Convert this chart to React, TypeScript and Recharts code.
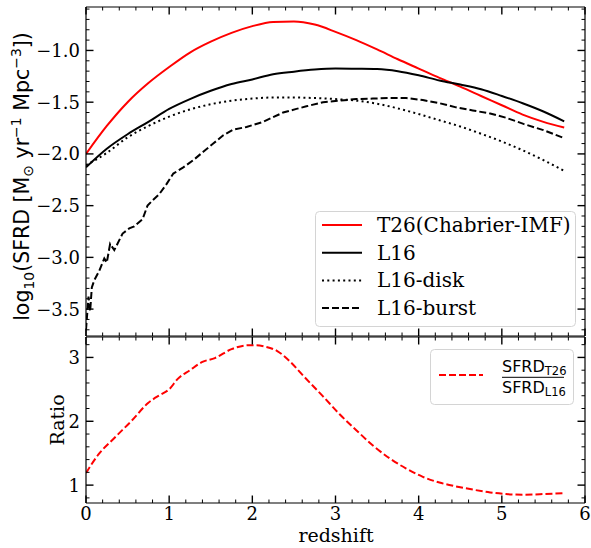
import React from "react";
import { Legend, Line, LineChart, XAxis, YAxis } from "recharts";

// T26 (Chabrier IMF) and L16 total / disk on a common redshift grid
const redshiftGrid = [
  0, 0.25, 0.5, 0.75, 1.0, 1.25, 1.5, 1.75, 2.0, 2.25, 2.5, 2.75, 3.0, 3.25, 3.5, 3.75, 4.0, 4.25,
  4.5, 4.75, 5.0, 5.25, 5.5, 5.75
];
const sfrdT26 = [
  -2.0, -1.73, -1.5, -1.315, -1.16, -1.02, -0.915, -0.83, -0.765, -0.725, -0.72, -0.75, -0.82,
  -0.9, -0.99, -1.085, -1.175, -1.265, -1.35, -1.44, -1.53, -1.62, -1.69, -1.745
];
const sfrdL16 = [
  -2.13, -1.95, -1.81, -1.69, -1.565, -1.47, -1.39, -1.325, -1.28, -1.23, -1.205, -1.185, -1.175,
  -1.177, -1.18, -1.2, -1.24, -1.29, -1.33, -1.375, -1.44, -1.51, -1.59, -1.685
];
const sfrdL16Disk = [
  -2.11, -1.99, -1.84, -1.73, -1.64, -1.57, -1.52, -1.485, -1.465, -1.455, -1.455, -1.46, -1.47,
  -1.485, -1.515, -1.56, -1.615, -1.675, -1.735, -1.805, -1.88, -1.965, -2.06, -2.165
];

// burst component is noisy at low z
const redshiftBurst = [
  0, 0.03, 0.05, 0.07, 0.1, 0.16, 0.22, 0.25, 0.29, 0.34, 0.44, 0.52, 0.58, 0.68, 0.74, 0.8, 0.88,
  0.97, 1.05, 1.17, 1.29, 1.41, 1.53, 1.65, 1.77, 1.93, 2.13, 2.37, 2.53, 2.65, 2.85, 3.05, 3.25,
  3.45, 3.65, 3.85, 4.05, 4.25, 4.45, 4.65, 4.86, 5.05, 5.26, 5.5, 5.74
];
const sfrdL16Burst = [
  -3.7, -3.38, -3.52, -3.29, -3.22, -3.13, -3.01, -3.05, -2.87, -2.93, -2.77, -2.72, -2.7, -2.63,
  -2.5, -2.45, -2.39, -2.29, -2.19, -2.13, -2.06, -1.98, -1.9, -1.82, -1.765, -1.74, -1.69, -1.6,
  -1.565, -1.54, -1.5, -1.485, -1.47, -1.465, -1.46, -1.46, -1.48, -1.51, -1.55, -1.58, -1.61,
  -1.65, -1.71, -1.77, -1.845
];

// SFRD_T26 / SFRD_L16
const redshiftRatio = [
  0, 0.15, 0.35, 0.55, 0.75, 0.9, 1.0, 1.1, 1.25, 1.4, 1.55, 1.75, 1.95, 2.05, 2.15, 2.3, 2.45,
  2.6, 2.85, 3.05, 3.25, 3.45, 3.65, 3.85, 4.05, 4.25, 4.45, 4.65, 4.86, 5.05, 5.26, 5.5, 5.74
];
const ratioT26L16 = [
  1.19, 1.48, 1.75, 2.01, 2.29, 2.42, 2.5, 2.66, 2.8, 2.93, 2.99, 3.13, 3.19, 3.19, 3.17, 3.1,
  2.94, 2.73, 2.39, 2.11, 1.86, 1.62, 1.42, 1.26, 1.13, 1.04, 0.98, 0.93, 0.885, 0.86, 0.85, 0.86,
  0.875
];

const xTicks = Array.from({ length: 31 }, (_, i) => Math.round(i * 2) / 10);
const topYTicks = Array.from({ length: 32 }, (_, i) => Math.round(-37 + i) / 10);
const ratioTicks = Array.from({ length: 13 }, (_, i) => Math.round(8 + i * 2) / 10);

const rows = (zs: number[], vs: number[]) => zs.map((z, i) => ({ z, v: vs[i] }));

const serif = "'DejaVu Serif', serif";
const sans = "'DejaVu Sans', sans-serif";
const fmt = (v: number, digits: number) => (v < 0 ? "\u2212" : "") + Math.abs(v).toFixed(digits);
const isMult = (v: number, step: number) => Math.abs(v / step - Math.round(v / step)) < 1e-6;

const MAJOR = 7.5;
const MINOR = 3.5;

// ticks point into the plot; labels only where a formatter is given
function makeTick(side: "bottom" | "top" | "left" | "right", step: number, label?: (v: number) => string) {
  return (props: any) => {
    const x = Number(props.x);
    const y = Number(props.y);
    const value = Number(props.payload.value);
    const major = isMult(value, step);
    const len = major ? MAJOR : MINOR;
    const sw = major ? 1.4 : 1;
    let x2 = x;
    let y2 = y;
    if (side === "bottom") y2 = y - len;
    else if (side === "top") y2 = y + len;
    else if (side === "left") x2 = x + len;
    else x2 = x - len;
    return (
      <g>
        <line x1={x} y1={y} x2={x2} y2={y2} stroke="#000" strokeWidth={sw} />
        {major && label && side === "bottom" && (
          <text x={x} y={y + 17} textAnchor="middle" fontFamily={serif} fontSize={18} fill="#000">
            {label(value)}
          </text>
        )}
        {major && label && side === "left" && (
          <text x={x - 6} y={y + 6.5} textAnchor="end" fontFamily={serif} fontSize={18} fill="#000">
            {label(value)}
          </text>
        )}
      </g>
    );
  };
}

const seriesTop = [
  { name: "T26(Chabrier-IMF)", color: "#ff0000", dash: undefined },
  { name: "L16", color: "#000000", dash: undefined },
  { name: "L16-disk", color: "#000000", dash: "2 3.3" },
  { name: "L16-burst", color: "#000000", dash: "7 3" }
];

function TopLegend() {
  return (
    <svg width={261} height={116} style={{ display: "block" }}>
      <rect x={0.5} y={0.5} width={260} height={115} rx={4} fill="#fff" fillOpacity={0.8} stroke="#d4d4d4" />
      {seriesTop.map((s, i) => {
        const cy = 14 + i * 27.7;
        return (
          <g key={s.name}>
            <line x1={7} x2={47} y1={cy} y2={cy} stroke={s.color} strokeWidth={2} strokeDasharray={s.dash} />
            <text x={62} y={cy + 7} fontFamily={serif} fontSize={20} fill="#000">
              {s.name}
            </text>
          </g>
        );
      })}
    </svg>
  );
}

function RatioLegend() {
  return (
    <svg width={144} height={56} style={{ display: "block" }}>
      <rect x={0.5} y={0.5} width={143} height={55} rx={4} fill="#fff" fillOpacity={0.8} stroke="#d4d4d4" />
      <line x1={9} x2={53} y1={26} y2={26} stroke="#ff0000" strokeWidth={2} strokeDasharray="7 3" />
      <text x={72} y={22.7} fontFamily={sans} fontSize={16} fill="#000">
        SFRD<tspan fontSize={11.5} dy={3}>T26</tspan>
      </text>
      <line x1={72} x2={134} y1={28.3} y2={28.3} stroke="#000" strokeWidth={1} />
      <text x={72} y={44.3} fontFamily={sans} fontSize={16} fill="#000">
        SFRD<tspan fontSize={11.5} dy={3}>L16</tspan>
      </text>
    </svg>
  );
}

const axisLine = { stroke: "#000", strokeWidth: 1.2 };

export default function App() {
  const width = 591;
  return (
    <div style={{ position: "absolute", left: 0, top: 0, width, height: 548, background: "#fff", overflow: "hidden" }}>
      <div style={{ position: "absolute", left: 0, top: 0 }}>
        <LineChart width={width} height={344} margin={{ top: 6, right: 5, bottom: 7, left: 0 }}>
          <XAxis
            dataKey="z"
            type="number"
            domain={[0, 6]}
            allowDataOverflow
            ticks={xTicks}
            interval={0}
            height={1}
            tickSize={0}
            tickMargin={0}
            tickLine={false}
            axisLine={axisLine}
            tick={makeTick("bottom", 1)}
          />
          <XAxis
            xAxisId="top"
            orientation="top"
            dataKey="z"
            type="number"
            domain={[0, 6]}
            allowDataOverflow
            ticks={xTicks}
            interval={0}
            height={1}
            tickSize={0}
            tickMargin={0}
            tickLine={false}
            axisLine={axisLine}
            tick={makeTick("top", 1)}
          />
          <YAxis
            type="number"
            domain={[-3.76, -0.58]}
            allowDataOverflow
            ticks={topYTicks}
            interval={0}
            width={86}
            tickSize={0}
            tickMargin={0}
            tickLine={false}
            axisLine={axisLine}
            tick={makeTick("left", 0.5, (v) => fmt(v, 1))}
          />
          <YAxis
            yAxisId="right"
            orientation="right"
            type="number"
            domain={[-3.76, -0.58]}
            allowDataOverflow
            ticks={topYTicks}
            interval={0}
            width={1}
            tickSize={0}
            tickMargin={0}
            tickLine={false}
            axisLine={axisLine}
            tick={makeTick("right", 0.5)}
          />
          <Line data={rows(redshiftGrid, sfrdT26)} dataKey="v" name="T26(Chabrier-IMF)" type="monotone" stroke="#ff0000" strokeWidth={2} dot={false} isAnimationActive={false} />
          <Line data={rows(redshiftGrid, sfrdL16)} dataKey="v" name="L16" type="monotone" stroke="#000" strokeWidth={2} dot={false} isAnimationActive={false} />
          <Line data={rows(redshiftGrid, sfrdL16Disk)} dataKey="v" name="L16-disk" type="monotone" stroke="#000" strokeWidth={2} strokeDasharray="2 3.3" dot={false} isAnimationActive={false} />
          <Line data={rows(redshiftBurst, sfrdL16Burst)} dataKey="v" name="L16-burst" type="linear" stroke="#000" strokeWidth={2} strokeDasharray="7 3" dot={false} isAnimationActive={false} />
          <Legend
            layout="horizontal"
            verticalAlign="middle"
            align="center"
            content={() => <TopLegend />}
            wrapperStyle={{ position: "absolute", left: 315, top: 211, width: 261, height: 116 }}
          />
          <text transform="translate(29,176.5) rotate(-90)" textAnchor="middle" fontFamily={sans} fontSize={20.5} fill="#000">
            log<tspan fontSize={14} dy={5}>10</tspan>
            <tspan dy={-5}>(SFRD [M</tspan>
            <tspan fontSize={14} dy={4}>{"\u2299"}</tspan>
            <tspan dy={-4}> yr</tspan>
            <tspan fontSize={14} dy={-8}>{"\u22121"}</tspan>
            <tspan dy={8}> Mpc</tspan>
            <tspan fontSize={14} dy={-8}>{"\u22123"}</tspan>
            <tspan dy={8}>])</tspan>
          </text>
        </LineChart>
      </div>
      <div style={{ position: "absolute", left: 0, top: 0 }}>
        <LineChart width={width} height={548} margin={{ top: 336, right: 5, bottom: 0, left: 0 }}>
          <XAxis
            dataKey="z"
            type="number"
            domain={[0, 6]}
            allowDataOverflow
            ticks={xTicks}
            interval={0}
            height={45}
            tickSize={0}
            tickMargin={0}
            tickLine={false}
            axisLine={axisLine}
            tick={makeTick("bottom", 1, (v) => String(v))}
          />
          <XAxis
            xAxisId="top"
            orientation="top"
            dataKey="z"
            type="number"
            domain={[0, 6]}
            allowDataOverflow
            ticks={xTicks}
            interval={0}
            height={1}
            tickSize={0}
            tickMargin={0}
            tickLine={false}
            axisLine={axisLine}
            tick={makeTick("top", 1)}
          />
          <YAxis
            type="number"
            domain={[0.72, 3.32]}
            allowDataOverflow
            ticks={ratioTicks}
            interval={0}
            width={86}
            tickSize={0}
            tickMargin={0}
            tickLine={false}
            axisLine={axisLine}
            tick={makeTick("left", 1, (v) => String(Math.round(v)))}
          />
          <YAxis
            yAxisId="right"
            orientation="right"
            type="number"
            domain={[0.72, 3.32]}
            allowDataOverflow
            ticks={ratioTicks}
            interval={0}
            width={1}
            tickSize={0}
            tickMargin={0}
            tickLine={false}
            axisLine={axisLine}
            tick={makeTick("right", 1)}
          />
          <Line data={rows(redshiftRatio, ratioT26L16)} dataKey="v" name="ratio" type="monotone" stroke="#ff0000" strokeWidth={2} strokeDasharray="7 3" dot={false} isAnimationActive={false} />
          <Legend
            layout="horizontal"
            verticalAlign="middle"
            align="center"
            content={() => <RatioLegend />}
            wrapperStyle={{ position: "absolute", left: 430, top: 349, width: 144, height: 56 }}
          />
          <text x={336} y={541.5} textAnchor="middle" fontFamily={serif} fontSize={19} fill="#000">
            redshift
          </text>
          <text transform="translate(64,420) rotate(-90)" textAnchor="middle" fontFamily={serif} fontSize={19} fill="#000">
            Ratio
          </text>
        </LineChart>
      </div>
    </div>
  );
}
